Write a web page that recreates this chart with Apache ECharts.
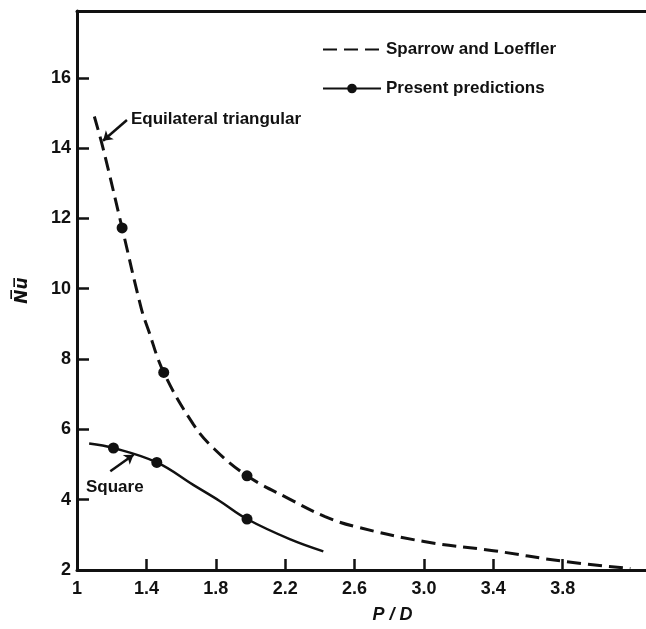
<!DOCTYPE html>
<html>
<head>
<meta charset="utf-8">
<script src="https://cdn.jsdelivr.net/npm/echarts@6/dist/echarts.min.js"></script>
<style>
  html, body { margin: 0; padding: 0; background: #fff; }
  #chart { width: 646px; height: 629px; }
</style>
</head>
<body>
<div id="chart"></div>
<script>
// tick labels
var xTicks = [1, 1.4, 1.8, 2.2, 2.6, 3.0, 3.4, 3.8];
var yTicks = [2, 4, 6, 8, 10, 12, 14, 16];

// Sparrow and Loeffler (equilateral triangular array), dashed curve
var sparrowX = [1.10, 1.15, 1.26, 1.37, 1.41, 1.50, 1.67, 1.79, 1.98, 2.22, 2.43, 2.60, 3.00, 3.40, 3.80, 4.19];
var sparrowY = [14.9, 14.0, 11.73, 9.45, 8.85, 7.62, 6.15, 5.45, 4.68, 4.03, 3.52, 3.24, 2.81, 2.55, 2.25, 2.04];

// present predictions, square array (solid curve)
var squareX = [1.07, 1.67, 1.82, 2.23, 2.42];
var squareY = [5.60, 4.42, 3.97, 2.87, 2.53];
var squarePredX = [1.21, 1.46, 1.98];
var squarePredY = [5.47, 5.06, 3.45];

// present predictions, triangular array
var triPredX = [1.26, 1.50, 1.98];
var triPredY = [11.73, 7.62, 4.68];

// annotation arrows [x, y] start -> tip
var triArrow = [[1.288, 14.80], [1.150, 14.21]];
var squareArrow = [[1.192, 4.81], [1.326, 5.28]];

var FONT = '"Liberation Sans", sans-serif';
var INK = '#111';

function pairs(xs, ys) {
  return xs.map(function (x, i) { return [x, ys[i]]; });
}

var squareData = pairs(squareX, squareY).map(function (p) {
  return { value: p, symbol: 'none' };
}).concat(pairs(squarePredX, squarePredY).map(function (p) {
  return { value: p };
})).sort(function (a, b) { return a.value[0] - b.value[0]; });

var chart = echarts.init(document.getElementById('chart'));

var option = {
  animation: false,
  backgroundColor: '#fff',
  grid: { left: 77, right: 0, top: 11, bottom: 52 },
  legend: {
    orient: 'vertical',
    left: 317,
    top: 36,
    itemWidth: 58,
    itemHeight: 12,
    itemGap: 22,
    data: [
      { name: 'Sparrow and Loeffler', itemStyle: { opacity: 0 } },
      { name: 'Present predictions' }
    ],
    textStyle: { fontFamily: FONT, fontWeight: 'bold', fontSize: 17, color: INK }
  },
  xAxis: [{
    type: 'value',
    min: 1,
    max: 4.28,
    name: 'P / D',
    nameLocation: 'middle',
    nameGap: 36,
    nameTextStyle: {
      fontFamily: FONT, fontWeight: 'bold', fontStyle: 'italic', fontSize: 18, color: INK,
      padding: [0, 0, 0, 62]
    },
    axisLine: { show: true, lineStyle: { color: INK, width: 3 } },
    axisTick: { show: true, inside: true, length: 11, customValues: xTicks, lineStyle: { color: INK, width: 2.5 } },
    axisLabel: {
      customValues: xTicks,
      margin: 10,
      fontFamily: FONT, fontWeight: 'bold', fontSize: 18, color: INK,
      formatter: function (v) { return v === 1 ? '1' : v.toFixed(1); }
    },
    splitLine: { show: false }
  }, {
    type: 'value',
    position: 'top',
    min: 1,
    max: 4.28,
    axisLine: { show: true, lineStyle: { color: INK, width: 3 } },
    axisTick: { show: false },
    axisLabel: { show: false },
    splitLine: { show: false }
  }],
  yAxis: {
    type: 'value',
    min: 2,
    max: 17.9,
    name: 'N\u0305u\u0305',
    nameLocation: 'middle',
    nameRotate: 90,
    nameGap: 46,
    nameTextStyle: { fontFamily: 'DejaVu Sans', fontWeight: 'bold', fontStyle: 'italic', fontSize: 17, color: INK },
    axisLine: { show: true, lineStyle: { color: INK, width: 3 } },
    axisTick: { show: true, inside: true, length: 12, customValues: yTicks, lineStyle: { color: INK, width: 2.5 } },
    axisLabel: {
      customValues: yTicks,
      margin: 6,
      fontFamily: FONT, fontWeight: 'bold', fontSize: 18, color: INK
    },
    splitLine: { show: false }
  },
  series: [{
    name: 'Sparrow and Loeffler',
    type: 'line',
    smooth: 0.4,
    symbol: 'none',
    data: pairs(sparrowX, sparrowY),
    itemStyle: { color: INK },
    lineStyle: { color: INK, width: 3, type: [14, 7] }
  }, {
    name: 'Present predictions',
    type: 'line',
    smooth: 0.4,
    symbol: 'circle',
    symbolSize: 11,
    showSymbol: true,
    data: squareData,
    itemStyle: { color: INK },
    lineStyle: { color: INK, width: 2.5 }
  }, {
    name: 'Triangular predictions',
    type: 'scatter',
    symbol: 'circle',
    symbolSize: 11,
    data: pairs(triPredX, triPredY),
    itemStyle: { color: INK, opacity: 1 },
    markLine: {
      silent: true,
      symbol: ['none', 'arrow'],
      symbolSize: 9,
      label: { show: false },
      lineStyle: { color: INK, width: 2.5, type: 'solid' },
      data: [
        [{ coord: triArrow[0] }, { coord: triArrow[1] }],
        [{ coord: squareArrow[0] }, { coord: squareArrow[1] }]
      ]
    }
  }],
  graphic: [{
    type: 'text',
    left: 131,
    top: 111,
    style: { text: 'Equilateral triangular', font: 'bold 17px ' + FONT, fill: INK }
  }, {
    type: 'text',
    left: 86,
    top: 479,
    style: { text: 'Square', font: 'bold 17px ' + FONT, fill: INK }
  }]
};

chart.setOption(option);
</script>
</body>
</html>
